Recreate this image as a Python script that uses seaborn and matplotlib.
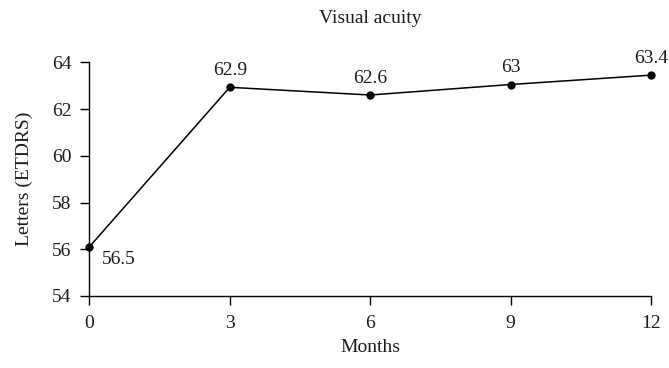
import matplotlib
matplotlib.use("Agg")
import matplotlib.pyplot as plt
import seaborn as sns
import pandas as pd

months = [0, 3, 6, 9, 12]
letters = [56.1, 62.93, 62.6, 63.05, 63.45]
point_labels = ["56.5", "62.9", "62.6", "63", "63.4"]
x_ticks = [0, 3, 6, 9, 12]
y_ticks = [54, 56, 58, 60, 62, 64]

sns.set_theme(style="ticks")
plt.rcParams["font.family"] = ["Liberation Serif", "DejaVu Serif"]

df = pd.DataFrame({"Months": months, "Letters": letters})

fig = plt.figure(figsize=(6.69, 3.68), dpi=100)
ax = fig.add_axes([0.1335, 0.1957, 0.8395, 0.635])
sns.lineplot(data=df, x="Months", y="Letters", ax=ax, color="black",
             linewidth=1.1, marker="o", markersize=6, markeredgewidth=0)
for ln in ax.lines:
    ln.set_clip_on(False)

fs = 14
txt_color = "#1a1a1a"
for i, (x, y, lab) in enumerate(zip(months, letters, point_labels)):
    if i == 0:
        ax.annotate(lab, (x, y), xytext=(9, -3), textcoords="offset points",
                    ha="left", va="top", fontsize=fs, color=txt_color)
    else:
        ax.annotate(lab, (x, y), xytext=(0, 6), textcoords="offset points",
                    ha="center", va="bottom", fontsize=fs, color=txt_color,
                    annotation_clip=False)

ax.set_xlim(0, 12)
ax.set_ylim(54, 64)
ax.set_xticks(x_ticks)
ax.set_yticks(y_ticks)
ax.tick_params(axis="both", labelsize=fs, length=6.5, width=1, colors="black",
               labelcolor=txt_color)
ax.tick_params(axis="y", pad=6.5)
ax.tick_params(axis="x", pad=7)
for s in ["top", "right"]:
    ax.spines[s].set_visible(False)
for s in ["left", "bottom"]:
    ax.spines[s].set_color("black")
    ax.spines[s].set_linewidth(1)
ax.set_xlabel("Months", fontsize=fs, color=txt_color, labelpad=5)
ax.set_ylabel("Letters (ETDRS)", fontsize=fs, color=txt_color)
ax.yaxis.set_label_coords(-0.10, 0.5)
ax.set_title("Visual acuity", fontsize=fs, color=txt_color, pad=28)

fig.savefig("out.png", dpi=100)
